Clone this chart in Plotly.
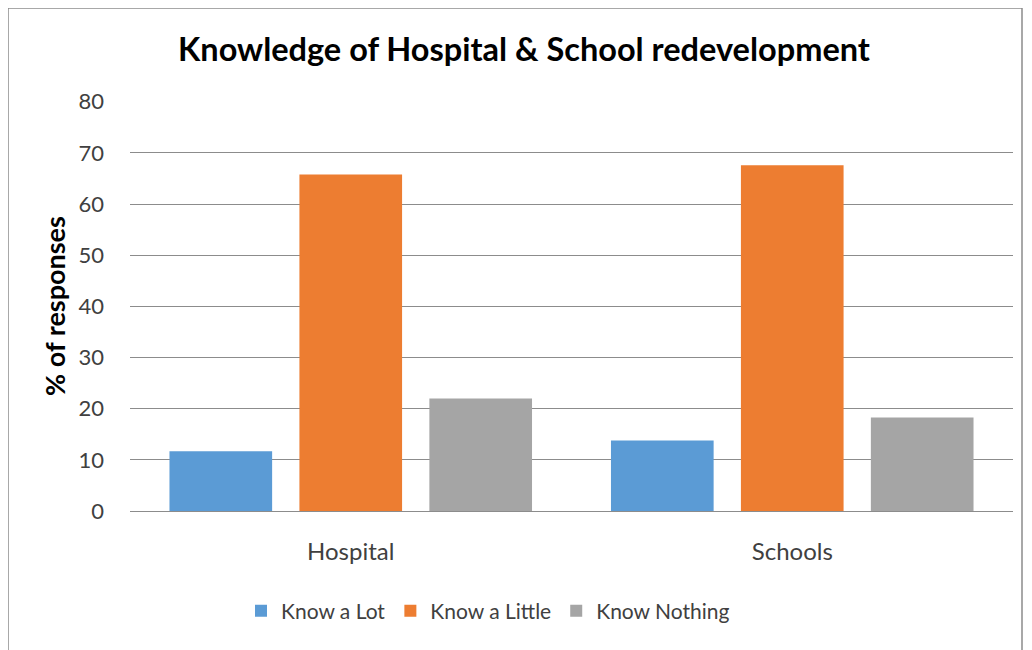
import plotly.graph_objects as go

categories = ["Hospital", "Schools"]
series_names = ["Know a Lot", "Know a Little", "Know Nothing"]
know_a_lot = [11.7, 13.8]
know_a_little = [65.8, 67.6]
know_nothing = [22.0, 18.3]
colors = ["#5B9BD5", "#ED7D31", "#A5A5A5"]
y_ticks = [0, 10, 20, 30, 40, 50, 60, 70, 80]

fig = go.Figure()
for name, vals, c in zip(series_names, [know_a_lot, know_a_little, know_nothing], colors):
    fig.add_trace(go.Bar(x=categories, y=vals, name=name, marker=dict(color=c, line=dict(width=0))))

W, H = 1032, 650
L, R, T, B = 122, 27, 93, 147
PH = H - T - B
PW = W - L - R

fig.update_layout(
    width=W, height=H,
    barmode="group", bargap=0.117, bargroupgap=0.21,
    paper_bgcolor="white", plot_bgcolor="white",
    font=dict(family="Lato, Open Sans, sans-serif", color="#404040"),
    margin=dict(l=L, r=R, t=T, b=B),
    title=dict(text="<b>Knowledge of Hospital & School redevelopment</b>", x=0.5, xanchor="center",
               y=1 - 42 / H, yanchor="middle", font=dict(size=32.5, color="#000000")),
    xaxis=dict(showline=False, ticks="", tickfont=dict(size=24, color="#404040"), ticklabelstandoff=24),
    yaxis=dict(range=[0, 80.15], tickvals=y_ticks, showgrid=True, gridcolor="#8C8C8C", gridwidth=1,
               zeroline=True, zerolinecolor="#8C8C8C", zerolinewidth=1,
               tickfont=dict(size=22, color="#404040"), ticks="", ticklabelstandoff=25,
               title=dict(text="<b>% of responses</b>", font=dict(size=27, color="#000000"), standoff=5)),
    legend=dict(orientation="h", x=(233 - L) / PW, xanchor="left", y=(503 - 603) / PH, yanchor="middle",
                font=dict(size=21, color="#404040"), itemwidth=30, traceorder="normal"),
    shapes=[dict(type="rect", xref="paper", yref="paper",
                 x0=(0 - L) / PW, x1=(1014 - L) / PW,
                 y0=(B - H + 1) / PH, y1=(H - B) / PH,
                 line=dict(color="#8C8C8C", width=1.5), fillcolor="rgba(0,0,0,0)", layer="below")],
)
fig.write_html("out.html")
